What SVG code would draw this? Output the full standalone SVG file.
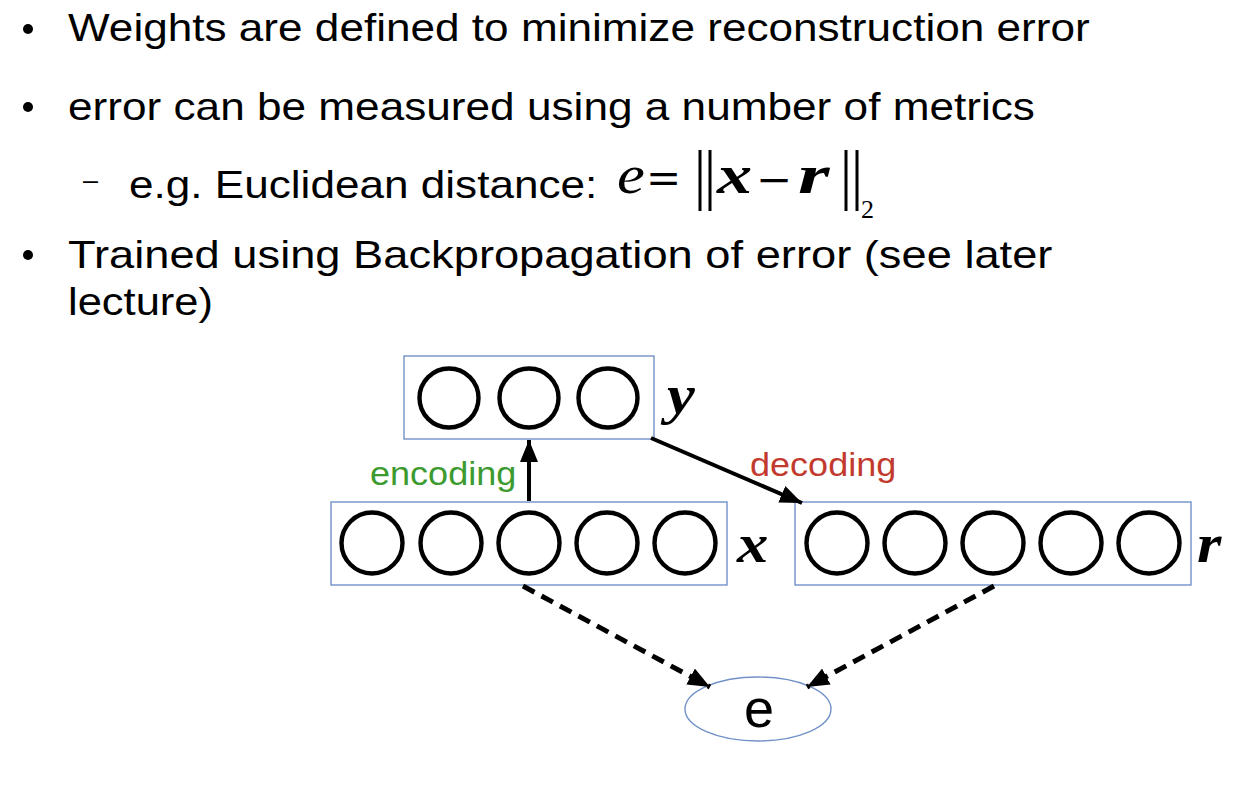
<svg xmlns="http://www.w3.org/2000/svg" width="1240" height="788" viewBox="0 0 1240 788">
<defs>
<style>
.t{font-family:"Liberation Sans",Arial,sans-serif;fill:#000}
.b{font-size:38px}
.m{font-family:"Liberation Serif","Times New Roman",serif;font-style:italic;fill:#000}
.u{font-family:"Liberation Serif","Times New Roman",serif;fill:#000}
.d{font-family:"DejaVu Serif",serif;fill:#000}
.mb{font-weight:bold}
.box{fill:none;stroke:#7191c8;stroke-width:1.4}
.n{fill:none;stroke:#000;stroke-width:4.4}
.arr{stroke:#000;stroke-width:4;fill:none}
.dash{stroke:#000;stroke-width:5;fill:none;stroke-dasharray:13 8}
.bar{stroke:#000;stroke-width:3}
</style>
<marker id="ah" markerUnits="userSpaceOnUse" markerWidth="24" markerHeight="18" refX="22" refY="9" orient="auto">
<path d="M0,0 L22,9 L0,18 Z" fill="#000"/>
</marker>
</defs>
<rect width="1240" height="788" fill="#fff"/>

<g id="text">
<circle cx="28" cy="29" r="5" fill="#000"/>
<text class="t b" transform="translate(68,41) scale(1.165,1)" textLength="877" lengthAdjust="spacingAndGlyphs">Weights are defined to minimize reconstruction error</text>
<circle cx="28" cy="107" r="5" fill="#000"/>
<text class="t b" transform="translate(68,120) scale(1.165,1)" textLength="830" lengthAdjust="spacingAndGlyphs">error can be measured using a number of metrics</text>
<text class="t" x="83" y="189" font-size="27">–</text>
<text class="t b" transform="translate(129,198) scale(1.165,1)" textLength="402" lengthAdjust="spacingAndGlyphs">e.g. Euclidean distance:</text>
<circle cx="28" cy="255" r="5" fill="#000"/>
<text class="t b" transform="translate(68,268) scale(1.165,1)" textLength="845" lengthAdjust="spacingAndGlyphs">Trained using Backpropagation of error (see later</text>
<text class="t b" transform="translate(68,315) scale(1.165,1)" textLength="124.5" lengthAdjust="spacingAndGlyphs">lecture)</text>
</g>

<g id="formula">
<text class="m" font-size="54" transform="translate(617,193) scale(1.16,1)">e</text>
<text class="d" font-size="42" x="646" y="193">=</text>
<line class="bar" x1="700" y1="150" x2="700" y2="211"/>
<line class="bar" x1="710" y1="150" x2="710" y2="211"/>
<text class="m mb" font-size="54" transform="translate(717,193) scale(1.3,1)">x</text>
<text class="d" font-size="36" transform="translate(756,193) scale(1.2,1.1)">−</text>
<text class="m mb" font-size="54" transform="translate(798,193) scale(1.5,1)">r</text>
<line class="bar" x1="846" y1="150" x2="846" y2="211"/>
<line class="bar" x1="857" y1="150" x2="857" y2="211"/>
<text class="u" font-size="26" x="861" y="218">2</text>
</g>

<g id="node-y">
<rect class="box" x="404" y="356" width="250" height="83"/>
<circle class="n" cx="449" cy="398" r="29.5"/>
<circle class="n" cx="529" cy="398" r="29.5"/>
<circle class="n" cx="608" cy="398" r="29.5"/>
<text class="m mb" font-size="54" transform="translate(667,413) scale(1.16,1)">y</text>
</g>

<g id="node-x">
<rect class="box" x="331" y="502" width="396" height="83"/>
<circle class="n" cx="372" cy="543" r="30.5"/>
<circle class="n" cx="451" cy="543" r="30.5"/>
<circle class="n" cx="529" cy="543" r="30.5"/>
<circle class="n" cx="607" cy="543" r="30.5"/>
<circle class="n" cx="685" cy="543" r="30.5"/>
<text class="m mb" font-size="54" transform="translate(737,562) scale(1.16,1)">x</text>
</g>

<g id="node-r">
<rect class="box" x="795" y="502" width="396" height="83"/>
<circle class="n" cx="837" cy="543" r="30.5"/>
<circle class="n" cx="915" cy="543" r="30.5"/>
<circle class="n" cx="993" cy="543" r="30.5"/>
<circle class="n" cx="1071" cy="543" r="30.5"/>
<circle class="n" cx="1149" cy="543" r="30.5"/>
<text class="m mb" font-size="54" transform="translate(1197,562) scale(1.16,1)">r</text>
</g>

<g id="node-e">
<ellipse cx="758" cy="709" rx="73" ry="32" fill="none" stroke="#7191c8" stroke-width="1.4"/>
<text class="t" x="759" y="727" font-size="54" text-anchor="middle">e</text>
</g>

<g id="connectors">
<line class="arr" x1="529" y1="501" x2="529" y2="440" marker-end="url(#ah)"/>
<text class="t" font-size="33" transform="translate(370,485) scale(1.1,1)" textLength="133" lengthAdjust="spacingAndGlyphs" style="fill:#3c9a2f">encoding</text>
<line class="arr" x1="651" y1="438" x2="802" y2="503" marker-end="url(#ah)"/>
<text class="t" font-size="33" transform="translate(750,476) scale(1.1,1)" textLength="133" lengthAdjust="spacingAndGlyphs" style="fill:#c23a2e">decoding</text>
<line class="dash" x1="523" y1="586" x2="710" y2="687" marker-end="url(#ah)"/>
<line class="dash" x1="994" y1="586" x2="807" y2="687" marker-end="url(#ah)"/>
</g>
</svg>
